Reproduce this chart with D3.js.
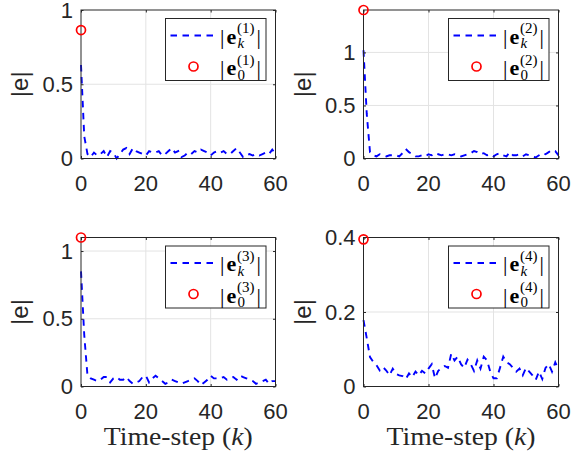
<!DOCTYPE html>
<html>
<head>
<meta charset="utf-8">
<script src="https://cdn.jsdelivr.net/npm/d3@7"></script>
<style>
  body { margin: 0; background: #fff; }
  svg { display: block; }
  .sans { font-family: "Liberation Sans", Arial, Helvetica; }
  .tex { font-family: "Liberation Serif", "Times New Roman"; }
</style>
</head>
<body>
<svg id="fig" width="571" height="457"></svg>
<script>
// Time steps k = 0..60
const steps = d3.range(0, 61);

// Estimation error magnitude |e_k^(i)| for each agent
const errAgent1 = [0.63, 0.15, 0.03, 0.01, 0.04, 0.02, 0.03, 0.05, 0.01, 0.05,
  0.04, 0.00, 0.03, 0.06, 0.07, 0.03, 0.07, 0.05, 0.04, 0.03,
  0.02, 0.05, 0.04, 0.04, 0.05, 0.02, 0.03, 0.05, 0.07, 0.04,
  0.05, 0.01, 0.02, 0.04, 0.03, 0.05, 0.04, 0.06, 0.05, 0.04,
  0.02, 0.04, 0.05, 0.04, 0.05, 0.03, 0.03, 0.05, 0.07, 0.04,
  0.01, 0.02, 0.03, 0.02, 0.03, 0.02, 0.03, 0.04, 0.03, 0.06, 0.03];
const errAgent2 = [1.02, 0.42, 0.06, 0.03, 0.02, 0.04, 0.03, 0.02, 0.03, 0.03,
  0.03, 0.02, 0.05, 0.09, 0.06, 0.04, 0.02, 0.02, 0.03, 0.02,
  0.04, 0.03, 0.05, 0.04, 0.03, 0.04, 0.04, 0.03, 0.04, 0.03,
  0.02, 0.03, 0.04, 0.05, 0.07, 0.06, 0.04, 0.05, 0.03, 0.04,
  0.02, 0.04, 0.05, 0.03, 0.02, 0.06, 0.03, 0.03, 0.04, 0.02,
  0.04, 0.03, 0.02, 0.01, 0.03, 0.05, 0.04, 0.06, 0.08, 0.07, 0.03];
const errAgent3 = [0.85, 0.38, 0.08, 0.06, 0.05, 0.04, 0.05, 0.07, 0.07, 0.03,
  0.06, 0.07, 0.05, 0.05, 0.07, 0.04, 0.02, 0.03, 0.04, 0.07,
  0.08, 0.03, 0.06, 0.08, 0.06, 0.04, 0.02, 0.03, 0.05, 0.04,
  0.03, 0.02, 0.03, 0.04, 0.05, 0.06, 0.04, 0.01, 0.03, 0.05,
  0.08, 0.06, 0.06, 0.06, 0.07, 0.05, 0.06, 0.07, 0.05, 0.08,
  0.07, 0.06, 0.05, 0.04, 0.02, 0.03, 0.04, 0.05, 0.02, 0.04, 0.04];
const errAgent4 = [0.178, 0.13, 0.079, 0.066, 0.057, 0.043, 0.052, 0.043, 0.030, 0.048,
  0.034, 0.030, 0.028, 0.020, 0.035, 0.025, 0.040, 0.030, 0.042, 0.035,
  0.048, 0.060, 0.022, 0.042, 0.050, 0.055, 0.050, 0.088, 0.070, 0.080,
  0.060, 0.050, 0.072, 0.060, 0.042, 0.070, 0.048, 0.080, 0.070, 0.040,
  0.022, 0.022, 0.050, 0.080, 0.065, 0.060, 0.050, 0.040, 0.048, 0.030,
  0.050, 0.040, 0.030, 0.018, 0.040, 0.020, 0.050, 0.060, 0.040, 0.065, 0.045];

// Initial error |e_0^(i)|
const initialErr = [0.865, 1.40, 1.10, 0.395];

// Axis limits and tick labels
const yUpper = [1, 1.4, 1.1, 0.4];
const yTickValues = [[0, 0.5, 1], [0, 0.5, 1], [0, 0.5, 1], [0, 0.2, 0.4]];
const xTickValues = [0, 20, 40, 60];
const agentIds = ["1", "2", "3", "4"];
const xLabelText = "Time-step (";
const yLabelText = "|e|";

const series = [errAgent1, errAgent2, errAgent3, errAgent4];

// Pixel frames of the four axes
const frames = [
  { x0: 81,    x1: 275.5, y0: 10,    y1: 158.5, bottomRow: false },
  { x0: 363.5, x1: 558.5, y0: 10,    y1: 158.5, bottomRow: false },
  { x0: 81,    x1: 275.5, y0: 237.5, y1: 386.5, bottomRow: true },
  { x0: 363.5, x1: 558.5, y0: 237.5, y1: 386.5, bottomRow: true }
];

const svg = d3.select("#fig");
const axisColor = "#262626";
const gridColor = "#e3e3e3";
const tickLen = 2.5;

frames.forEach((f, i) => {
  const x = d3.scaleLinear().domain([0, 60]).range([f.x0, f.x1]);
  const y = d3.scaleLinear().domain([0, yUpper[i]]).range([f.y1, f.y0]);
  const g = svg.append("g");

  // grid
  const gx = g.append("g").attr("stroke", gridColor).attr("stroke-width", 1);
  xTickValues.filter(v => v > 0 && v < 60).forEach(v => {
    gx.append("line").attr("x1", x(v)).attr("x2", x(v)).attr("y1", f.y0).attr("y2", f.y1);
  });
  yTickValues[i].filter(v => v > 0 && v < yUpper[i]).forEach(v => {
    gx.append("line").attr("x1", f.x0).attr("x2", f.x1).attr("y1", y(v)).attr("y2", y(v));
  });

  // error trajectory
  const line = d3.line().x((d, j) => x(steps[j])).y(d => y(d));
  g.append("path")
    .datum(series[i])
    .attr("d", line)
    .attr("fill", "none")
    .attr("stroke", "#0000ff")
    .attr("stroke-width", 1.9)
    .attr("stroke-dasharray", "6.5,5.5");

  // axes frame
  g.append("rect")
    .attr("x", f.x0).attr("y", f.y0)
    .attr("width", f.x1 - f.x0).attr("height", f.y1 - f.y0)
    .attr("fill", "none").attr("stroke", axisColor).attr("stroke-width", 1);

  // ticks (inside, on all four sides)
  const axB = d3.axisBottom(x).tickValues(xTickValues).tickSizeInner(-tickLen).tickSizeOuter(0).tickFormat("");
  const axT = d3.axisTop(x).tickValues(xTickValues).tickSizeInner(-tickLen).tickSizeOuter(0).tickFormat("");
  const axL = d3.axisLeft(y).tickValues(yTickValues[i]).tickSizeInner(-tickLen).tickSizeOuter(0).tickFormat("");
  const axR = d3.axisRight(y).tickValues(yTickValues[i]).tickSizeInner(-tickLen).tickSizeOuter(0).tickFormat("");
  [[axB, `translate(0,${f.y1})`], [axT, `translate(0,${f.y0})`],
   [axL, `translate(${f.x0},0)`], [axR, `translate(${f.x1},0)`]].forEach(([ax, tr]) => {
    const a = g.append("g").attr("transform", tr).call(ax);
    a.select(".domain").remove();
    a.selectAll("line").attr("stroke", axisColor);
  });

  // tick labels
  xTickValues.forEach(v => {
    g.append("text").attr("class", "sans").attr("x", x(v)).attr("y", f.y1 + 32)
      .attr("text-anchor", "middle").attr("font-size", 22)
      .attr("fill", axisColor).text(String(v));
  });
  yTickValues[i].forEach(v => {
    g.append("text").attr("class", "sans").attr("x", f.x0 - 8).attr("y", y(v) + 7.5)
      .attr("text-anchor", "end").attr("font-size", 22)
      .attr("fill", axisColor).text(String(v));
  });

  // y label
  const cy = (f.y0 + f.y1) / 2;
  g.append("text").attr("class", "sans")
    .attr("transform", `translate(${f.x0 - 53},${cy}) rotate(-90)`)
    .attr("text-anchor", "middle").attr("font-size", 24)
    .attr("fill", axisColor).text(yLabelText);

  // x label
  if (f.bottomRow) {
    const t = g.append("text").attr("class", "tex")
      .attr("x", (f.x0 + f.x1) / 2).attr("y", 445)
      .attr("text-anchor", "middle").attr("font-size", 25)
      .attr("textLength", 149).attr("lengthAdjust", "spacingAndGlyphs")
      .attr("fill", axisColor);
    t.append("tspan").text(xLabelText);
    t.append("tspan").attr("font-style", "italic").text("k");
    t.append("tspan").text(")");
  }

  // initial error marker
  g.append("circle")
    .attr("cx", x(steps[0])).attr("cy", y(initialErr[i])).attr("r", 4.5)
    .attr("fill", "none").attr("stroke", "#ff0000").attr("stroke-width", 1.7);

  // legend
  const L = f.x1 - 110, T = f.y0 + 8.5, W = 100.5, H = 62;
  const lg = g.append("g");
  lg.append("rect").attr("x", L).attr("y", T).attr("width", W).attr("height", H)
    .attr("fill", "#fff").attr("stroke", axisColor).attr("stroke-width", 1);
  lg.append("line").attr("x1", L + 5).attr("x2", L + 48).attr("y1", T + 17).attr("y2", T + 17)
    .attr("stroke", "#0000ff").attr("stroke-width", 1.9).attr("stroke-dasharray", "6.5,5.5");
  lg.append("circle").attr("cx", L + 28).attr("cy", T + 48).attr("r", 4.5)
    .attr("fill", "none").attr("stroke", "#ff0000").attr("stroke-width", 1.7);
  texEntry(lg, L + 54.5, T + 25, "k", agentIds[i]);
  texEntry(lg, L + 54.5, T + 56.5, "0", agentIds[i]);
});

// |e_sub^(sup)|: bold e with stacked subscript and superscript
function texEntry(g, x, base, sub, sup) {
  const t = g.append("g").attr("fill", "#000");
  t.append("text").attr("class", "tex").attr("x", x).attr("y", base).attr("font-size", 22).text("|");
  t.append("text").attr("class", "tex").attr("x", x + 6.5).attr("y", base).attr("font-size", 22)
    .attr("font-weight", "bold").text("e");
  t.append("text").attr("class", "tex").attr("x", x + 17).attr("y", base - 10.5).attr("font-size", 15).text(`(${sup})`);
  t.append("text").attr("class", "tex").attr("x", x + 17.5).attr("y", base + 4.5).attr("font-size", 15)
    .attr("font-style", sub === "k" ? "italic" : "normal").text(sub);
  t.append("text").attr("class", "tex").attr("x", x + 36.5).attr("y", base).attr("font-size", 22).text("|");
}
</script>
</body>
</html>
